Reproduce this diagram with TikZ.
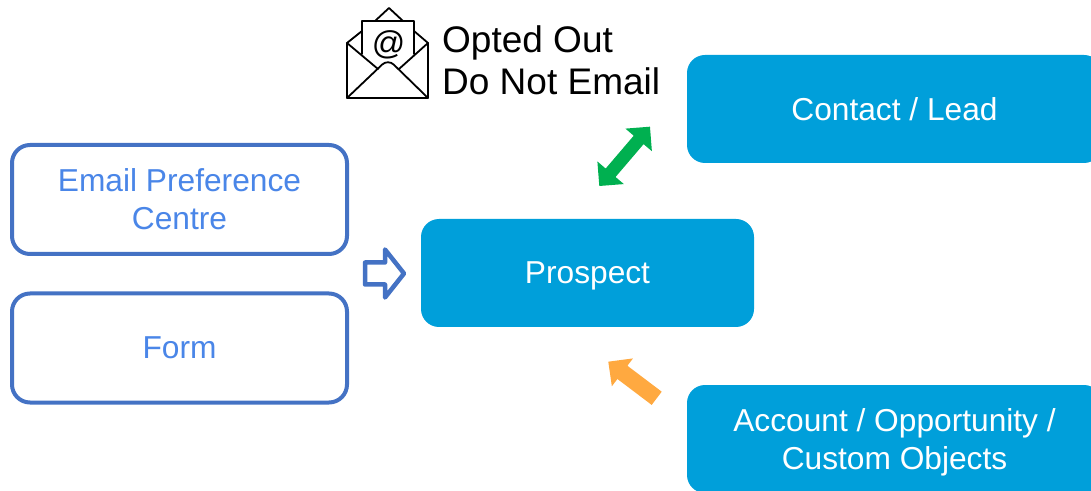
\documentclass[tikz,border=0pt]{standalone}
\usepackage{fontspec}
\setmainfont{Liberation Sans}
\usetikzlibrary{calc}
\definecolor{boxblue}{HTML}{009FDA}
\definecolor{lineblue}{HTML}{4472C4}
\definecolor{textblue}{HTML}{4A86E8}
\definecolor{arrowgreen}{HTML}{00B050}
\definecolor{arroworange}{HTML}{FFA940}
\tikzset{
  bluebox/.style={fill=boxblue, text=white, rounded corners=18pt,
    minimum height=108pt, text depth=0pt, align=center,
    font=\fontsize{31.7}{38}\selectfont},
  srcbox/.style={draw=lineblue, line width=4pt, fill=white, text=textblue,
    rounded corners=18pt, minimum width=335pt, minimum height=109pt,
    text depth=0pt, align=center, font=\fontsize{31.7}{38}\selectfont},
  envline/.style={line width=1.8pt, line join=round, line cap=round},
}

\begin{document}
\begin{tikzpicture}[x=1pt,y=1pt]
  \clip (0,0) rectangle (1091,490);
  \node[srcbox] (pref) at (179.5,290.5) {Email Preference\\Centre};
  \node[srcbox] (form) at (179.5,142) {Form};
  \node[bluebox, minimum width=333pt] (prospect) at (587.5,217) {Prospect};
  \node[bluebox, minimum width=415pt] (contact) at (894.5,381) {Contact / Lead};
  \node[bluebox, minimum width=415pt] (account) at (894.5,51)
    {Account / Opportunity /\\Custom Objects};

  \node[anchor=north west, inner sep=0pt, align=left,
    font=\fontsize{37}{42}\selectfont] (optout) at (442,465)
    {Opted Out\\Do Not Email};

  \draw[envline]
    (362,436) -- (362,469) -- (414,469) -- (414,436);
  \draw[envline]
    (375,469) -- (389,482) -- (403,469);
  \draw[envline]
    (362,459) -- (347,447) -- (347,392) -- (428,392) -- (428,447) -- (414,459);
  \draw[envline]
    (347,447) -- (378,421);
  \draw[envline]
    (428,447) -- (399,421);
  \draw[envline,rounded corners=8pt]
    (347,392) -- (388,431) -- (428,392);
  \node[inner sep=0pt, font=\fontsize{33}{33}\selectfont] (at) at (388.5,445) {@};

  \coordinate (inarrow) at (365,216.5);
  \coordinate (sync) at (599.3,304);
  \coordinate (feed) at (656.7,91.7);

  \draw[lineblue, line width=4.5pt, line join=round, fill=white, shift={(inarrow)}]
    (0,-11) -- (20,-11) -- (20,-24) -- (39,0) -- (20,24) -- (20,11) -- (0,11) -- cycle;
  \fill[arrowgreen, shift={(sync)}, rotate=49.5]
    (0,0) -- (17.4,17.4) -- (17.4,6.5) -- (60.6,6.5) -- (60.6,17.4) -- (78,0)
    -- (60.6,-17.4) -- (60.6,-6.5) -- (17.4,-6.5) -- (17.4,-17.4) -- cycle;
  \fill[arroworange, shift={(feed)}, rotate=142.9]
    (0,8.3) -- (43,8.3) -- (43,17.5) -- (60.7,0) -- (43,-17.5) -- (43,-8.3)
    -- (0,-8.3) -- cycle;
\end{tikzpicture}
\end{document}
